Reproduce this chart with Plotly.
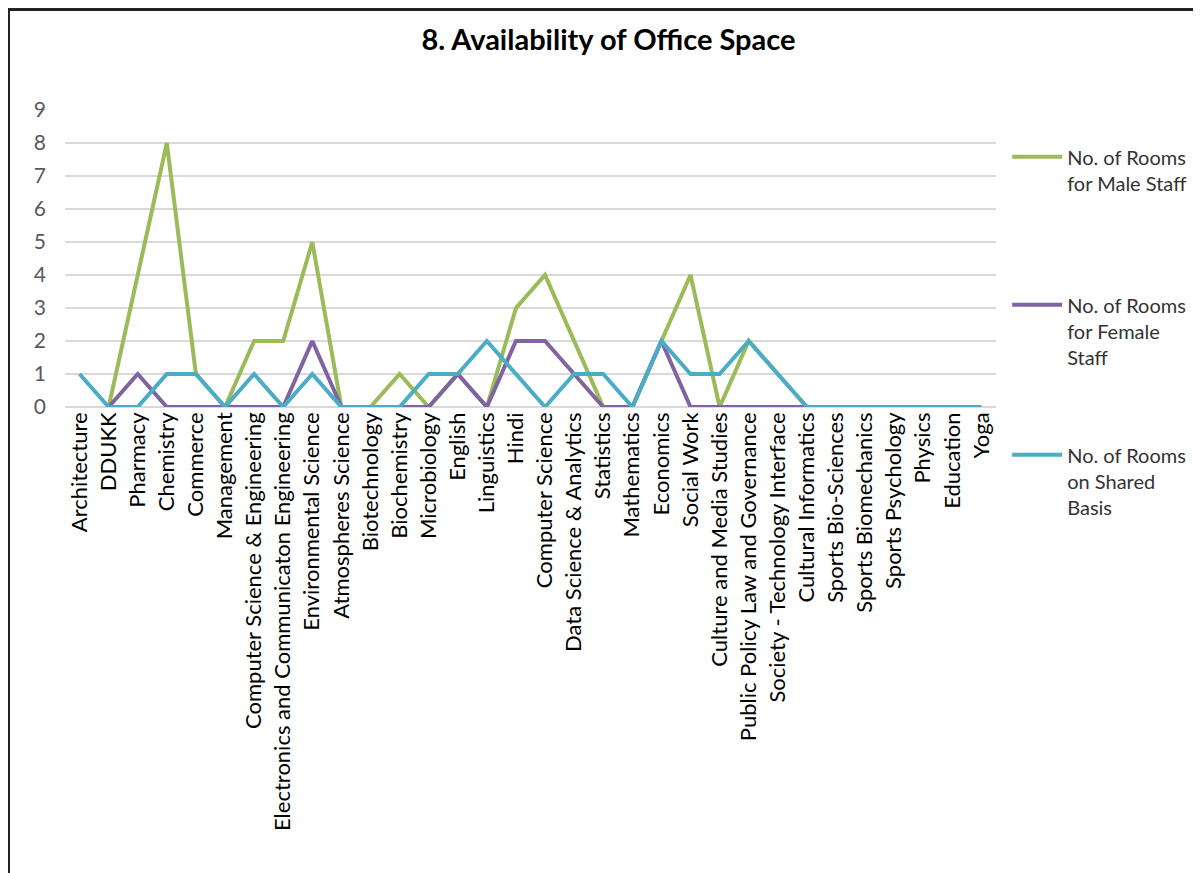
import plotly.graph_objects as go

# Availability of office space per department

departments = [
    "Architecture", "DDUKK", "Pharmacy", "Chemistry", "Commerce", "Management",
    "Computer Science & Engineering", "Electronics and Communicaton Engineering",
    "Environmental Science", "Atmospheres Science", "Biotechnology", "Biochemistry",
    "Microbiology", "English", "Linguistics", "Hindi", "Computer Science",
    "Data Science & Analytics", "Statistics", "Mathematics", "Economics", "Social Work",
    "Culture and Media Studies", "Public Policy Law and Governance",
    "Society - Technology Interface", "Cultural Informatics", "Sports Bio-Sciences",
    "Sports Biomechanics", "Sports Psychology", "Physics", "Education", "Yoga",
]

male_rooms = [None, 0, 4, 8, 1, 0, 2, 2, 5, 0, 0, 1, 0, 1, 0, 3, 4, 2, 0, 0, 2, 4,
              0, 2, 1, 0, 0, 0, 0, 0, 0, 0]
female_rooms = [None, 0, 1, 0, 0, 0, 0, 0, 2, 0, 0, 0, 0, 1, 0, 2, 2, 1, 0, 0, 2, 0,
                0, 0, 0, 0, None, None, None, None, None, None]
shared_rooms = [1, 0, 0, 1, 1, 0, 1, 0, 1, 0, 0, 0, 1, 1, 2, 1, 0, 1, 1, 0, 2, 1,
                1, 2, 1, 0, 0, 0, 0, 0, 0, 0]

series_names = ["No. of Rooms<br>for Male Staff", "No. of Rooms<br>for Female<br>Staff",
                "No. of Rooms<br>on Shared<br>Basis"]
series_colors = ["#9BBB59", "#8064A2", "#4BACC6"]

FONT = "Lato"

fig = go.Figure()
for i, (vals, name, col) in enumerate(zip([male_rooms, female_rooms, shared_rooms],
                                          series_names, series_colors)):
    fig.add_trace(go.Scatter(
        x=departments, y=vals, name=name, mode="lines",
        line=dict(color=col, width=4),
        legend="legend" if i == 0 else "legend%d" % (i + 1),
    ))

leg = dict(x=1.012, xanchor="left", yanchor="top", valign="top",
           bgcolor="rgba(0,0,0,0)", font=dict(family=FONT, size=20, color="#333333"),
           itemwidth=50, tracegroupgap=0)

fig.update_layout(
    width=1201, height=873,
    showlegend=True,
    paper_bgcolor="white", plot_bgcolor="white",
    margin=dict(l=57, r=213, t=102, b=474, autoexpand=False),
    title=dict(text="<b>8. Availability of Office Space</b>", x=0.5, xref="container",
               xanchor="center", y=1 - 32 / 873, yanchor="middle",
               font=dict(family=FONT, size=29, color="black")),
    legend=dict(leg, y=0.908),
    legend2=dict(leg, y=0.41),
    legend3=dict(leg, y=-0.095),
    xaxis=dict(type="category", range=[-0.5, 31.5], tickangle=-90, showgrid=False,
               showline=False, ticks="", automargin=False,
               tickfont=dict(family=FONT, size=22, color="black")),
    yaxis=dict(range=[0, 9], dtick=1, showgrid=True, gridcolor="#D9D9D9", gridwidth=1.5,
               zeroline=True, zerolinecolor="#D9D9D9", zerolinewidth=1.5,
               showline=False, ticks="", automargin=False, ticklabelstandoff=18,
               tickfont=dict(family=FONT, size=21, color="#595959")),
)

# outer frame of the original image (left and top edges only visible)
fig.add_shape(type="line", xref="paper", yref="paper", x0=-0.0607, x1=-0.0607,
              y0=1.345, y1=-1.7, line=dict(color="#222222", width=3))
fig.add_shape(type="line", xref="paper", yref="paper", x0=-0.0607, x1=1.3,
              y0=1.3384, y1=1.3384, line=dict(color="#222222", width=3))

fig.write_html("out.html")
